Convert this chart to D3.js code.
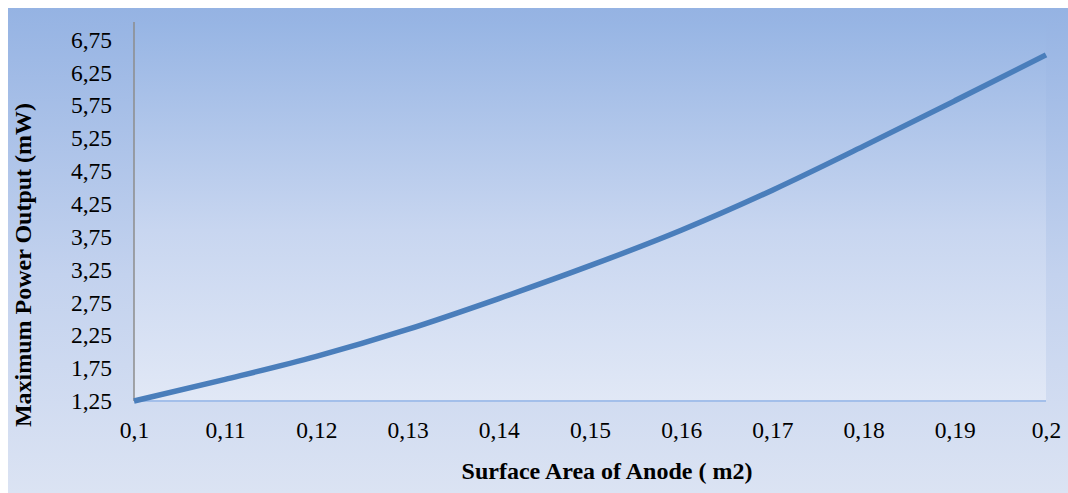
<!DOCTYPE html>
<html><head><meta charset="utf-8">
<script src="https://cdn.jsdelivr.net/npm/d3@7"></script>
<style>html,body{margin:0;padding:0;background:#fff;}svg{display:block;}</style>
</head><body>
<script>
const areas = [0.10,0.11,0.12,0.13,0.14,0.15,0.16,0.17,0.18,0.19,0.20];
const power = [1.25,1.58,1.93,2.34,2.81,3.31,3.85,4.46,5.13,5.82,6.52];
const xTicks = [0.10,0.11,0.12,0.13,0.14,0.15,0.16,0.17,0.18,0.19,0.20];
const xTickLabels = ["0,1","0,11","0,12","0,13","0,14","0,15","0,16","0,17","0,18","0,19","0,2"];
const yTicks = [1.25,1.75,2.25,2.75,3.25,3.75,4.25,4.75,5.25,5.75,6.25,6.75];
const yTickLabels = ["1,25","1,75","2,25","2,75","3,25","3,75","4,25","4,75","5,25","5,75","6,25","6,75"];
const xTitle = "Surface Area of Anode ( m2)";
const yTitle = "Maximum Power Output (mW)";

(function(){
const W = 1068, H = 493;
const svg = d3.select("body").append("svg").attr("width", W).attr("height", H);
const defs = svg.append("defs");
const g1 = defs.append("linearGradient").attr("id","bg").attr("x1",0).attr("y1",0).attr("x2",0).attr("y2",1);
g1.append("stop").attr("offset","0%").attr("stop-color","#95b3e3");
g1.append("stop").attr("offset","55%").attr("stop-color","#c3d2ee");
g1.append("stop").attr("offset","100%").attr("stop-color","#dbe3f3");
const g2 = defs.append("linearGradient").attr("id","pa").attr("x1",0).attr("y1",0).attr("x2",0).attr("y2",1);
g2.append("stop").attr("offset","0%").attr("stop-color","#97b5e4");
g2.append("stop").attr("offset","55%").attr("stop-color","#c8d6f0");
g2.append("stop").attr("offset","100%").attr("stop-color","#e1e8f6");

svg.append("rect").attr("x",8).attr("y",8).attr("width",W-8).attr("height",H-8).attr("fill","url(#bg)");

const pL = 134, pR = 1046, pT = 22, pB = 401;
svg.append("rect").attr("x",pL).attr("y",pT).attr("width",pR-pL).attr("height",pB-pT).attr("fill","url(#pa)");

const x = d3.scaleLinear().domain([0.10,0.20]).range([pL,pR]);
const y = d3.scaleLinear().domain([1.25,7.02]).range([pB,pT]);

const font = "'Liberation Serif','Times New Roman',serif";
const tickSize = 23.5;

const yAxis = d3.axisLeft(y).tickValues(yTicks).tickSize(0).tickPadding(22)
  .tickFormat((d,i)=>yTickLabels[i]);
const ya = svg.append("g").attr("transform",`translate(${pL},0)`).call(yAxis);
ya.select(".domain").remove();
ya.selectAll("text").attr("font-family",font).attr("font-size",tickSize).attr("fill","#000");
svg.append("line").attr("x1",pL).attr("x2",pL).attr("y1",pT).attr("y2",pB)
  .attr("stroke","#8c8c8c").attr("stroke-width",1.5);

const xAxis = d3.axisBottom(x).tickValues(xTicks).tickSize(0).tickPadding(20)
  .tickFormat((d,i)=>xTickLabels[i]);
const xa = svg.append("g").attr("transform",`translate(0,${pB})`).call(xAxis);
xa.select(".domain").remove();
xa.selectAll("text").attr("font-family",font).attr("font-size",tickSize).attr("fill","#000");
svg.append("line").attr("x1",pL).attr("x2",pR).attr("y1",pB).attr("y2",pB)
  .attr("stroke","#a3bfea").attr("stroke-width",2);

const line = d3.line().x((d,i)=>x(areas[i])).y(d=>y(d)).curve(d3.curveMonotoneX);
svg.append("path").datum(power).attr("d",line).attr("fill","none")
  .attr("stroke","#4a7ebb").attr("stroke-width",5.5).attr("stroke-linecap","butt");

svg.append("text").attr("x",607).attr("y",479).attr("text-anchor","middle")
  .attr("font-family",font).attr("font-weight","bold").attr("font-size",24).text(xTitle);
svg.append("text").attr("transform","translate(31,265) rotate(-90)").attr("text-anchor","middle")
  .attr("font-family",font).attr("font-weight","bold").attr("font-size",24).text(yTitle);
})();
</script>
</body></html>
